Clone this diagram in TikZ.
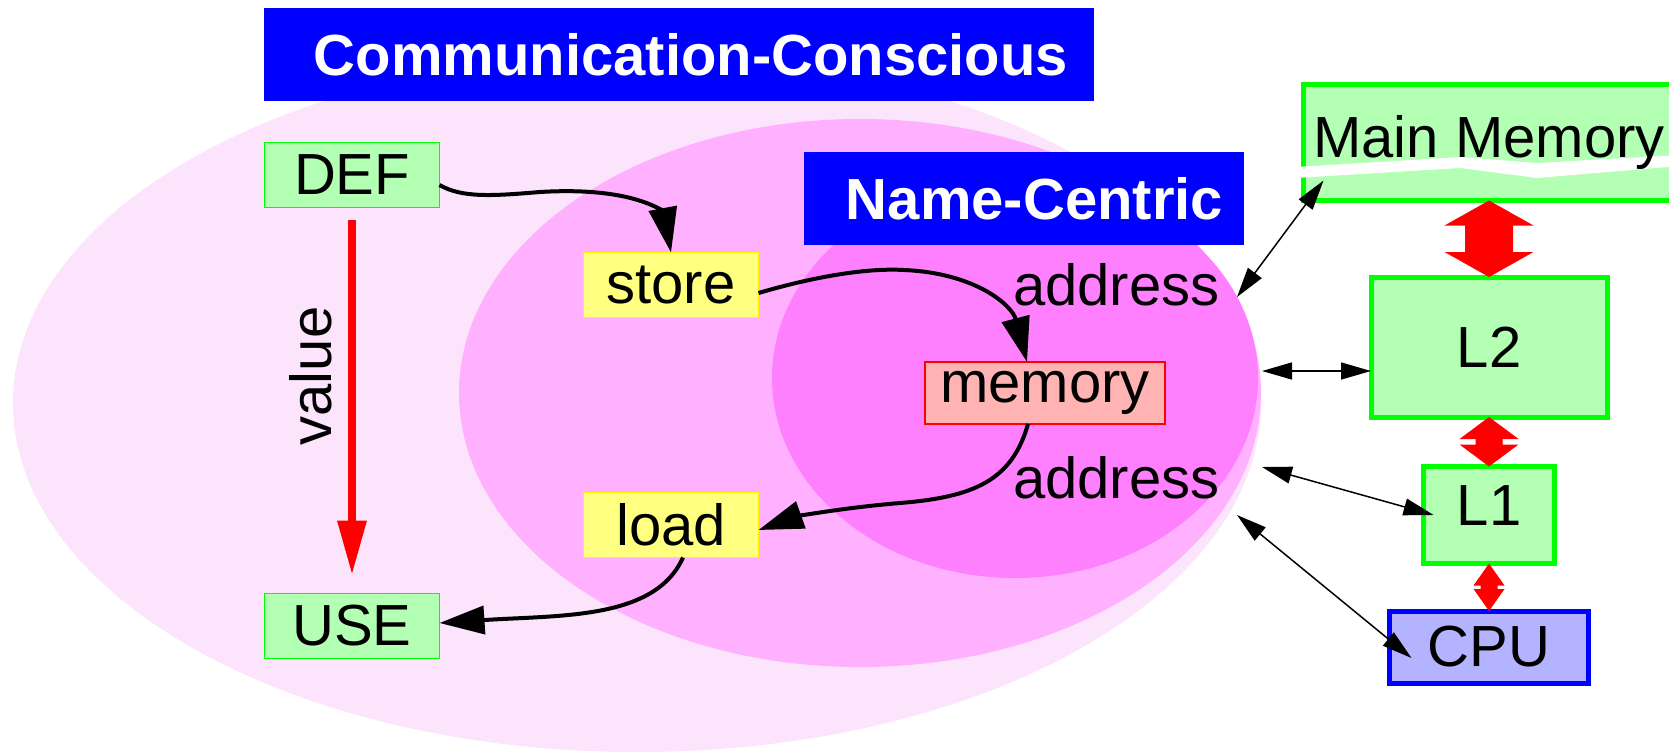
\documentclass[tikz,border=0pt]{standalone}
\usepackage{fontspec}
\setmainfont{Liberation Sans}
\usepackage{tikz}
\usetikzlibrary{arrows.meta}

\definecolor{ccpink}{RGB}{252,228,252}
\definecolor{ncpink}{RGB}{255,176,255}
\definecolor{mempink}{RGB}{255,128,255}
\definecolor{boxgreen}{RGB}{179,255,179}
\definecolor{opyellow}{RGB}{255,255,128}
\definecolor{cellred}{RGB}{255,179,179}
\definecolor{cpublue}{RGB}{179,179,255}

\pgfdeclarelayer{background}
\pgfsetlayers{background,main}

\begin{document}
\begin{tikzpicture}[x=1pt,y=-1pt,
  every node/.style={font=\fontsize{58}{70}\selectfont,inner sep=0pt,outer sep=0pt},
  banner/.style={fill=blue,text=white,font=\fontsize{58}{70}\selectfont\bfseries,minimum height=93pt},
  valbox/.style={draw=green,fill=boxgreen,line width=1.5pt,minimum width=175pt,minimum height=65pt},
  opbox/.style={draw=yellow,fill=opyellow,line width=1.5pt,minimum width=175pt,minimum height=65pt},
  cellbox/.style={draw=red,fill=cellred,line width=1.5pt,minimum width=240pt,minimum height=62pt},
  cachebox/.style={draw=green,fill=boxgreen,line width=5pt},
  cpubox/.style={draw=blue,fill=cpublue,line width=5pt},
  flow/.style={line width=4pt,-{Triangle[length=45pt,width=28pt]}},
  valflow/.style={red,line width=8pt,-{Triangle[length=53pt,width=30pt,line width=0pt]}},
  link/.style={line width=1.5pt,{Triangle[length=30pt,width=17pt]}-{Triangle[length=30pt,width=17pt]}},
  bus/.style args={#1/#2/#3}{red,to path={
    -- ++(#2/2,-#3) -- ++(-#2/2+#1/2,0pt) -- ([shift={(#1/2,#3)}]\tikztotarget)
    -- ++(#2/2-#1/2,0pt) -- (\tikztotarget) -- ++(-#2/2,#3) -- ++(#2/2-#1/2,0pt)
    -- ([shift={(-#1/2,-#3)}]\tikztostart) -- ++(-#2/2+#1/2,0pt) -- cycle}}]
\useasboundingbox (0,0) rectangle (1669,752);
\clip (0,0) rectangle (1669,752);

\fill[ccpink] (637,403) ellipse [x radius=624, y radius=349];
\fill[ncpink] (860,393) ellipse [x radius=401, y radius=274];
\fill[mempink] (1015,378) ellipse [x radius=243, y radius=200];

\node[banner,minimum width=830pt] (cc) at (679,54.5) {\hspace*{24pt}Communication-Conscious};
\node[banner,minimum width=440pt] (nc) at (1024,198.5) {\hspace*{21pt}Name-Centric};

\node[valbox] (def) at (352,175) {DEF};
\node[valbox] (use) at (352,626) {USE};
\node[opbox] (store) at (671,285) {store};
\node[opbox] (load) at (671,525) {load};
\node[cellbox] (mem) at (1045,393) {memory};
\node[anchor=base west] (addrin) at (1013,305) {address};
\node[anchor=base west] (addrout) at (1013,498) {address};
\node[rotate=90,anchor=base] (valtxt) at (331,376) {value};

\draw[valflow,shorten <=12pt,shorten >=20pt] (def.south) -- (use.north);
\draw[flow] ([yshift=-10pt]def.east) .. controls (462,198) and (492,196) .. (540,192)
  .. controls (640,186) and (664,215) .. (store.north);
\draw[flow] ([yshift=-8pt]store.east) .. controls (820,275) and (870,268) .. (904,270)
  .. controls (975,273) and (1012,305) .. ([xshift=-18pt]mem.north);
\draw[flow] ([xshift=-17pt]mem.south) .. controls (1012,480) and (975,497) .. (900,503)
  .. controls (840,508) and (795,517) .. ([yshift=-5pt]load.east);
\draw[flow] ([xshift=12pt]load.south) .. controls (655,620) and (560,615) .. ([yshift=3pt]use.east);

\node[minimum width=371pt,minimum height=116pt] (mainmem) at (1489,142.5) {Main Memory};
\begin{pgfonlayer}{background}
  \clip (0,0) rectangle (1669,752);
  \draw[cachebox] (mainmem.south west) rectangle (mainmem.north east);
  \fill[white] (1296,167) -- (1460,157) -- (1537,163) -- (1680,155) -- (1680,166)
    -- (1537,178) -- (1460,168) -- (1296,178) -- cycle;
\end{pgfonlayer}
\node[cachebox,minimum width=236pt,minimum height=140pt] (l2) at (1489,347) {L2};
\node[cachebox,minimum width=131pt,minimum height=97pt,text depth=18pt] (l1) at (1489,515) {L1};
\node[cpubox,minimum width=199pt,minimum height=72pt] (cpu) at (1489,647) {CPU};

\fill[bus=48pt/89pt/25pt] (mainmem.south) to (l2.north);
\fill[bus=27pt/59pt/22pt] (l2.south) to (l1.north);
\fill[bus=17pt/31pt/22pt] (l1.south) to (cpu.north);

\coordinate (toMain) at (1237,297);
\coordinate (toL2) at (1262,371);
\coordinate (toL1) at (1262,467);
\coordinate (toCPU) at (1237,515);
\draw[link] (toMain) -- ([shift={(20pt,20pt)}]mainmem.south west);
\draw[link] (toL2) -- ([yshift=-24pt]l2.west);
\draw[link] (toL1) -- ([xshift=10pt]l1.west);
\draw[link] (toCPU) -- ([shift={(22pt,-11pt)}]cpu.west);
\end{tikzpicture}
\end{document}
